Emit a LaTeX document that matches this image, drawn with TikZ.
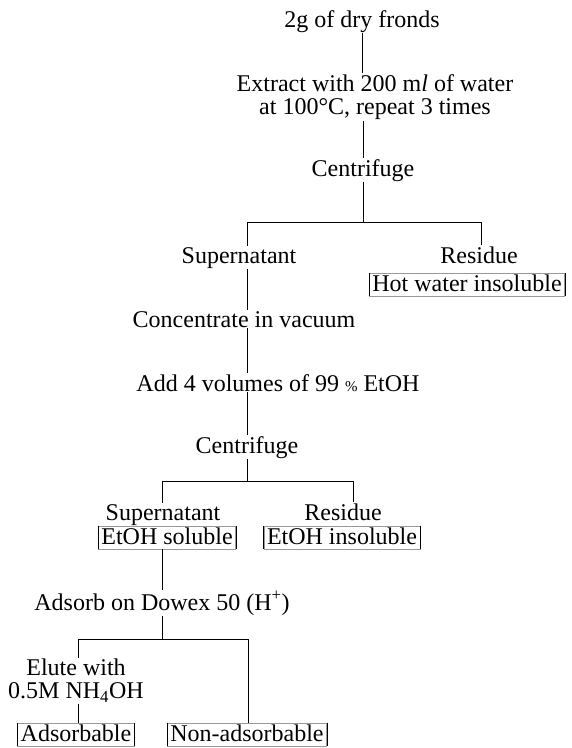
\documentclass[tikz,border=0pt]{standalone}
\usepackage{fontspec}
\setmainfont{Liberation Serif}
\usetikzlibrary{calc}
\tikzset{
  stage/.style={font=\fontsize{24}{22}\selectfont, inner sep=1pt, anchor=base},
  stage block/.style={font=\fontsize{24}{23}\selectfont, inner sep=1pt, align=center},
  fraction/.style={draw=black!40, line width=0.5pt, font=\fontsize{24}{22}\selectfont,
      text height=16pt, text depth=3pt, inner xsep=3pt, inner ysep=2pt, anchor=base},
  flow line/.style={line width=0.7pt}
}
\def\Fraction#1#2#3{%
  \node[fraction] (#1) at (#2) {#3};
  \draw[flow line] (#1.north west) -- (#1.south west)
                   (#1.north east) -- (#1.south east);
}

\begin{document}
\begin{tikzpicture}[x=1pt,y=1pt]
\useasboundingbox (0,0) rectangle (572,-748);
% hot water extraction
\node[stage] (fronds) at (362,-27) {2g of dry fronds};
\node[stage block] (extract) at (375,-97) {Extract with 200 m\textit{l} of water\\at 100°C, repeat 3 times};
\node[stage] (spin1) at (363,-176) {Centrifuge};
\coordinate (left1) at (247,-222);
\coordinate (right1) at (481,-222);
\node[stage] (super1) at (239,-263) {Supernatant};
\node[stage] (resid1) at (479,-263) {Residue};
\Fraction{hotwater}{467,-291}{Hot water insoluble}
\draw[flow line] (fronds.south) -- (fronds.south |- extract.north);
\draw[flow line] (extract.south -| spin1) -- (spin1.north);
\draw[flow line] (spin1.south) -- (spin1 |- left1);
\draw[flow line] (left1) -- (right1);
\draw[flow line] (left1) -- (left1 |- super1.north);
\draw[flow line] (right1) -- (right1 |- resid1.north);
% ethanol precipitation
\node[stage] (concentrate) at (244,-327) {Concentrate in vacuum};
\node[stage] (ethanol) at (278,-391) {Add 4 volumes of 99 {\fontsize{15}{15}\selectfont\%} EtOH};
\node[stage] (spin2) at (247,-453) {Centrifuge};
\coordinate (left2) at (162,-481);
\coordinate (right2) at (353,-481);
\node[stage] (super2) at (163,-520) {Supernatant};
\node[stage] (resid2) at (343,-520) {Residue};
\Fraction{etohsol}{167,-544}{EtOH soluble}
\Fraction{etohins}{342,-544}{EtOH insoluble}
\draw[flow line] (super1.south -| left1) -- (concentrate.north -| left1);
\draw[flow line] (concentrate.south -| left1) -- (ethanol.north -| left1);
\draw[flow line] (ethanol.south -| left1) -- (spin2.north -| left1);
\draw[flow line] (spin2.south -| left1) -- (left1 |- left2);
\draw[flow line] (left2) -- (right2);
\draw[flow line] (left2) -- (left2 |- super2.north);
\draw[flow line] (right2) -- (right2 |- resid2.north);
% ion exchange
\node[stage] (dowex) at (162,-610) {Adsorb on Dowex 50 (H\textsuperscript{+})};
\coordinate (left3) at (78,-639);
\coordinate (right3) at (248,-639);
\node[stage block] (elute) at (76,-681) {Elute with\\0.5M NH\textsubscript{4}OH};
\Fraction{adsorbable}{76,-741}{Adsorbable}
\Fraction{nonadsorbable}{247,-741}{Non-adsorbable}
\draw[flow line] (etohsol.south -| left2) -- (dowex.north -| left2);
\draw[flow line] (dowex.south -| left2) -- (left2 |- left3);
\draw[flow line] (left3) -- (right3);
\draw[flow line] (left3) -- (left3 |- elute.north);
\draw[flow line] (elute.south -| left3) -- (left3 |- adsorbable.north);
\draw[flow line] (right3) -- (right3 |- nonadsorbable.north);
\end{tikzpicture}
\end{document}
